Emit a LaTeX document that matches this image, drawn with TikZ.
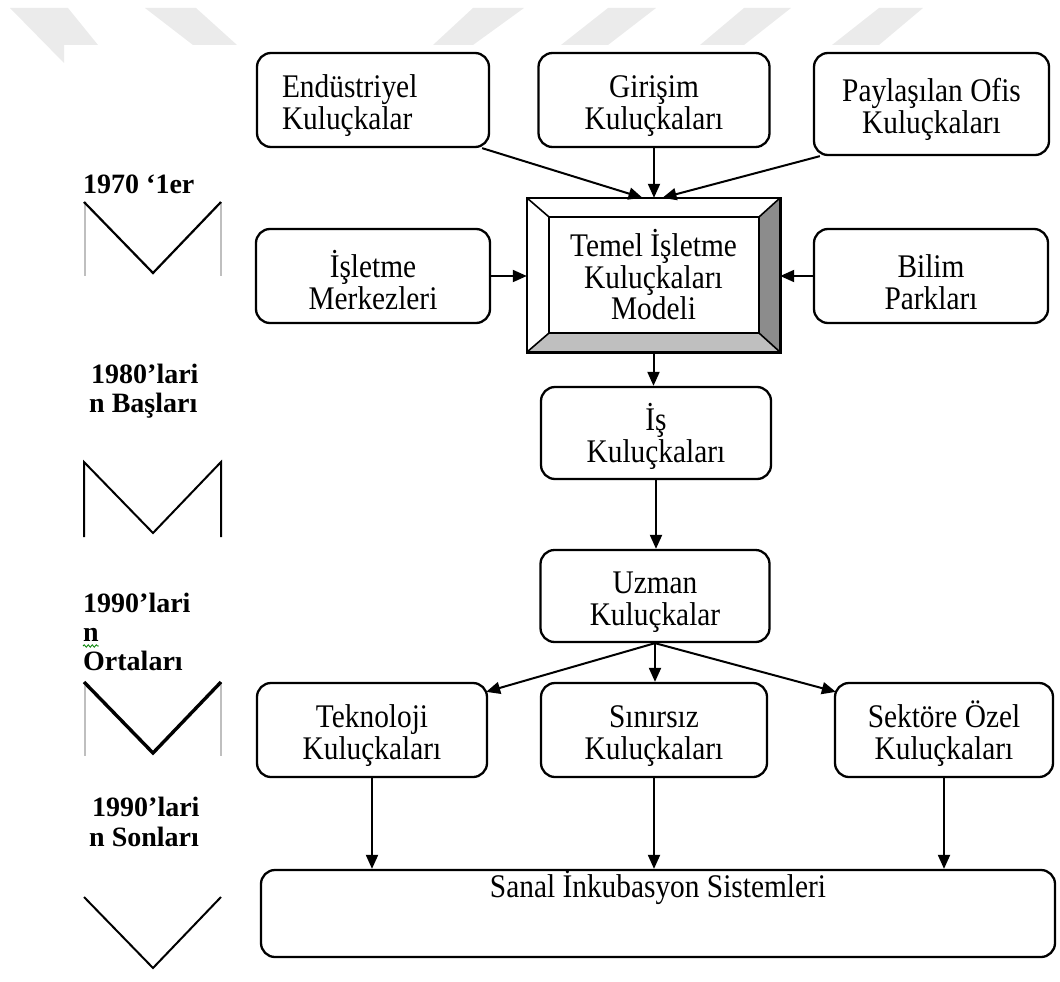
\documentclass[tikz,border=0pt]{standalone}
\usepackage{fontspec}
\setmainfont{Liberation Serif}
\newfontfamily\boxfont{Liberation Serif}[FakeStretch=0.89]
\usetikzlibrary{arrows.meta,decorations.pathmorphing}

\begin{document}
\begin{tikzpicture}[x=1pt, y=-1pt]
	\tikzstyle{box}   = [rectangle, rounded corners=14pt, draw=black, line width=2.3pt, fill=white, text width=200, align=flush center, inner sep=0pt, font=\boxfont\fontsize{33}{32}\selectfont, execute at begin node={\rule{0pt}{35pt}}]
	\tikzstyle{era}   = [anchor=base west, inner sep=0pt, font=\fontsize{28}{30}\selectfont\bfseries]
	\tikzstyle{flow}  = [-{Triangle[length=14pt, width=12pt]}, line width=2pt]
	\tikzstyle{wmark} = [fill=black!8]
	\tikzstyle{rail}  = [draw=black!25, line width=1.6pt]

	\useasboundingbox (0,0) rectangle (1060,982);

	% watermark
	\fill[wmark] (10,8) -- (68,8) -- (98,45) -- (64,45) -- (64,63) -- cycle;
	\foreach \a/\b/\c/\d in {145/196/237/193, 473/524/473/433, 608/656/608/561, 744/791/744/700, 879/923/879/832}
		\fill[wmark] (\a,8) -- (\b,8) -- (\c,45) -- (\d,45) -- cycle;

	% time line
	\foreach \name/\x/\y/\text in {e1/83/193/{1970 ‘1er}, e2a/91/383/1980’lari, e2b/89/412/{n Başları}, e3a/83/612/1990’lari, e3b/83/641/n, e3c/83/670/Ortaları, e4a/92/816/1990’lari, e4b/89/846/{n Sonları}}
		\node[era] (\name) at (\x,\y) {\text};
	\draw[green!50!black, line width=0.8pt, decorate, decoration={snake, amplitude=1.2pt, segment length=4pt}] ([yshift=-5pt]e3b.base west) -- ([yshift=-5pt]e3b.base east);

	\foreach \y in {202, 682} {
		\draw[rail] (85,\y) -- (85,\y+74);
		\draw[rail] (221,\y) -- (221,\y+74);
	}
	\foreach \y/\w in {202/2.2, 682/3.4, 897/2}
		\draw[line width=\w pt] (84,\y) -- (153,\y+71) -- (221,\y);
	\draw[line width=2pt] (84,537) -- (84,462) -- (153,533) -- (221,462) -- (221,537);

	% boxes
	\node[box, minimum width=232, minimum height=94, text width=182, align=flush left] (endus) at (373,100) {Endüstriyel\\Kuluçkalar};
	\foreach \name/\x/\y/\w/\h/\text in {giris/654/100/231/94/{Girişim\\Kuluçkaları}, paylas/931.5/104/235/102/{Paylaşılan Ofis\\Kuluçkaları}, islet/373/276/234/94/{İşletme\\Merkezleri}, bilim/931/276/234/94/{Bilim\\Parkları}, is/656/433/230/92/{İş\\Kuluçkaları}, uzman/655/596/229/92/{Uzman\\Kuluçkalar}, tekno/372/730/230/94/{Teknoloji\\Kuluçkaları}, sinir/654/730/226/94/{Sınırsız\\Kuluçkaları}, sektor/944/730/218/94/{Sektöre Özel\\Kuluçkaları}}
		\node[box, minimum width=\w, minimum height=\h] (\name) at (\x,\y) {\text};
	\node[box, minimum width=794, minimum height=87, text width=700, inner ysep=10pt, text height=17pt, text depth=50pt, execute at begin node={}] (sanal) at (658,913.5) {Sanal İnkubasyon Sistemleri};

	% bevelled model box
	\node[minimum width=253, minimum height=154, inner sep=0pt, align=center, font=\boxfont\fontsize{33}{31.5}\selectfont] (temel) at (653.5,275) {Temel İşletme\\Kuluçkaları\\Modeli};
	\coordinate (t1) at ([xshift=22pt, yshift=-19pt]temel.north west);
	\coordinate (t2) at ([xshift=-21pt, yshift=-19pt]temel.north east);
	\coordinate (t3) at ([xshift=-21pt, yshift=19pt]temel.south east);
	\coordinate (t4) at ([xshift=22pt, yshift=19pt]temel.south west);
	\fill[black!45] (temel.north east) -- (temel.south east) -- (t3) -- (t2) -- cycle;
	\fill[black!25] (temel.south west) -- (temel.south east) -- (t3) -- (t4) -- cycle;
	\draw[line width=1.6pt] (t1) rectangle (t3);
	\draw[line width=1.6pt] (temel.north west) -- (t1) (temel.north east) -- (t2) (temel.south east) -- (t3) (temel.south west) -- (t4);
	\draw[line width=2.6pt] (temel.north west) rectangle (temel.south east);

	% arrows
	\draw[flow] ([xshift=-8pt]endus.south east) -- ([xshift=-11pt]temel.north);
	\draw[flow] (giris.south) -- (giris.south |- temel.north);
	\draw[flow] ([xshift=7pt]paylas.south west) -- ([xshift=9pt]temel.north);
	\draw[flow] (islet.east) -- (islet.east -| temel.west);
	\draw[flow] (bilim.west) -- (bilim.west -| temel.east);
	\draw[flow] (temel.south) -- (temel.south |- is.north);
	\draw[flow] (is.south) -- (is.south |- uzman.north);
	\draw[flow] (uzman.south) -- ([xshift=-2pt, yshift=-10pt]tekno.north east);
	\draw[flow] (uzman.south) -- (uzman.south |- sinir.north);
	\draw[flow] (uzman.south) -- ([xshift=2pt, yshift=-10pt]sektor.north west);
	\foreach \name in {tekno, sinir, sektor}
		\draw[flow] (\name.south) -- (\name.south |- sanal.north);
\end{tikzpicture}
\end{document}
